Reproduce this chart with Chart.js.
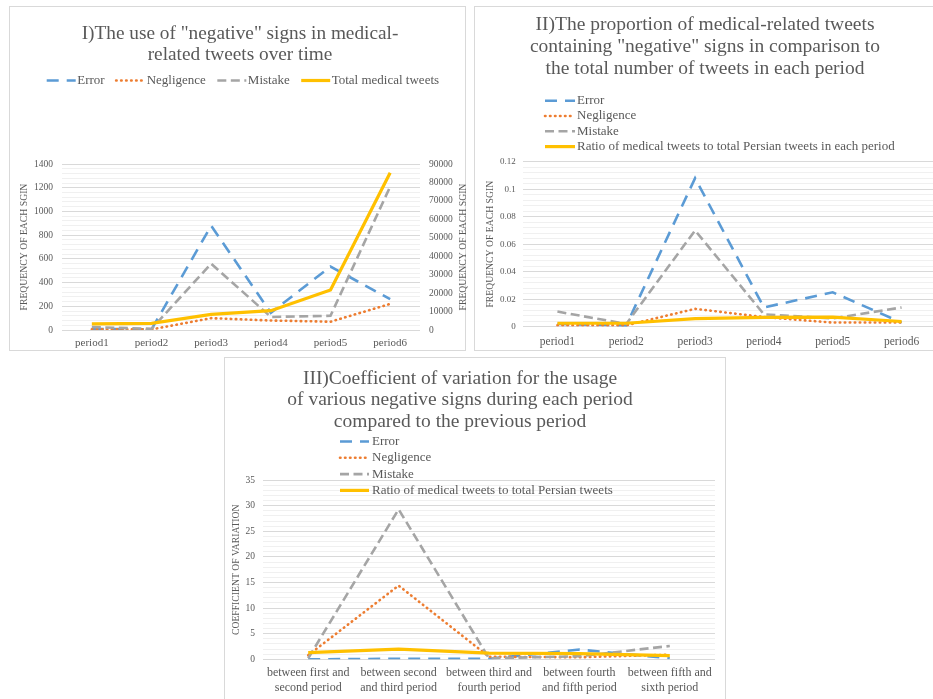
<!DOCTYPE html>
<html>
<head>
<meta charset="utf-8">
<script src="https://cdn.jsdelivr.net/npm/chart.js@4.4.1/dist/chart.umd.min.js"></script>
<style>
  html, body { margin: 0; padding: 0; background: #fff; width: 933px; height: 699px; overflow: hidden; }
  .panel { position: absolute; border: 1px solid #d9d9d9; background: #fff; box-sizing: border-box; }
  canvas { position: absolute; }
</style>
</head>
<body>
<div class="panel" style="left:9px;top:6px;width:457px;height:345px"></div>
<div class="panel" style="left:474px;top:6px;width:480px;height:345px"></div>
<div class="panel" style="left:224px;top:357px;width:502px;height:360px"></div>
<canvas id="chartFreq" width="462" height="344" style="left:9px;top:6px"></canvas>
<canvas id="chartRatio" width="476" height="344" style="left:474px;top:6px"></canvas>
<canvas id="chartCv" width="520" height="342" style="left:205px;top:357px"></canvas>

<script>
// ---- data ----
const periods = ['period1', 'period2', 'period3', 'period4', 'period5', 'period6'];

// I) counts of each sign per period (left axis) and total medical tweets (right axis)
const freqError      = [10, 5, 880, 145, 535, 260];
const freqNegligence = [5, 5, 100, 80, 70, 220];
const freqMistake    = [25, 10, 560, 110, 120, 1210];
const totalMedicalTweets = [3300, 3600, 8500, 10500, 21700, 85300];

// II) share of tweets with each sign in every period
const ratioError      = [0.002, 0.001, 0.108, 0.014, 0.025, 0.003];
const ratioNegligence = [0.001, 0.001, 0.013, 0.007, 0.003, 0.003];
const ratioMistake    = [0.011, 0.002, 0.070, 0.009, 0.006, 0.014];
const ratioMedical    = [0.0025, 0.0025, 0.0058, 0.0068, 0.007, 0.0038];

// III) coefficient of variation between consecutive periods
const transitions = [
  ['between first and', 'second period'],
  ['between second', 'and third period'],
  ['between third and', 'fourth period'],
  ['between fourth', 'and fifth period'],
  ['between fifth and', 'sixth period']
];
const cvError      = [0, 0.1, 0.1, 1.9, 0.2];
const cvNegligence = [0.8, 14.4, 0.5, 0.4, 0.9];
const cvMistake    = [0.2, 29.3, 0.2, 0.6, 2.6];
const cvMedical    = [1.3, 2.0, 1.2, 1.1, 0.7];

const axisCaption = 'FREQUENCY OF EACH SGIN';

// ---- look ----
const SERIF = "'Liberation Serif', 'Times New Roman', serif";
const TEXT = '#595959';
const GRID_MAJOR = '#d9d9d9';
const GRID_MINOR = '#f0f0f0';

Chart.defaults.font.family = SERIF;
Chart.defaults.color = TEXT;
Chart.defaults.animation = false;

const STYLE = {
  error:      { color: '#5B9BD5', width: 2.6, dash: [12, 8],   cap: 'butt',  order: 4 },
  negligence: { color: '#ED7D31', width: 2.6, dash: [0.5, 4.5], cap: 'round', order: 3 },
  mistake:    { color: '#A5A5A5', width: 2.6, dash: [9, 4.5],  cap: 'butt',  order: 2 },
  total:      { color: '#FFC000', width: 3.2, dash: [],        cap: 'butt',  order: 1 }
};

function series(label, data, st, axis) {
  return {
    label, data, yAxisID: axis || 'y',
    borderColor: st.color, backgroundColor: st.color,
    borderWidth: st.width, borderDash: st.dash, borderCapStyle: st.cap,
    pointRadius: 0, pointHoverRadius: 0, tension: 0, fill: false, order: st.order
  };
}

function isMultiple(v, step) {
  const r = v / step;
  return Math.abs(r - Math.round(r)) < 1e-6;
}

// value axis with major and minor grid lines; only major ticks are labelled
function valueAxis(o) {
  return {
    position: 'left',
    min: 0, max: o.max,
    border: { display: false },
    grid: {
      drawTicks: false,
      lineWidth: 1,
      color: c => (c.tick && isMultiple(c.tick.value, o.major)) ? GRID_MAJOR : GRID_MINOR
    },
    ticks: {
      stepSize: o.minor, autoSkip: false, maxTicksLimit: 1000,
      padding: o.pad, font: { size: o.font },
      callback: v => isMultiple(v, o.major) ? o.fmt(v) : ''
    },
    title: {
      display: true, text: o.caption || axisCaption, color: TEXT,
      font: { size: 9.7, lineHeight: 1.2 }, padding: { top: o.titlePad, bottom: 0 }
    },
    afterFit: s => { s.width = o.width; }
  };
}

function categoryAxis(o) {
  return {
    offset: true,
    grid: { display: false, drawTicks: false },
    border: { display: false },
    ticks: { padding: o.pad, font: { size: o.font, lineHeight: 1.2 }, maxRotation: 0, minRotation: 0, autoSkip: false },
    afterFit: s => { s.height = o.height; }
  };
}

// legend drawn as line samples followed by the series name
const seriesKey = {
  id: 'seriesKey',
  afterDatasetsDraw(chart, args, o) {
    const ctx = chart.ctx;
    ctx.save();
    ctx.font = o.fontSize + 'px ' + SERIF;
    ctx.fillStyle = TEXT;
    ctx.textBaseline = 'middle';
    ctx.textAlign = 'left';
    let x = o.x, y = o.y;
    chart.data.datasets.forEach(ds => {
      ctx.save();
      ctx.strokeStyle = ds.borderColor;
      ctx.lineWidth = ds.borderWidth;
      ctx.setLineDash(ds.borderDash || []);
      ctx.lineCap = ds.borderCapStyle || 'butt';
      ctx.beginPath();
      ctx.moveTo(x, y);
      ctx.lineTo(x + o.sample, y);
      ctx.stroke();
      ctx.restore();
      ctx.fillText(ds.label, x + o.sample + o.textGap, y);
      if (o.direction === 'row') {
        x += o.sample + o.textGap + ctx.measureText(ds.label).width + o.itemGap;
      } else {
        y += o.rowHeight;
      }
    });
    ctx.restore();
  }
};

// caption of the secondary axis, read bottom to top like the primary one
const rightCaption = {
  id: 'rightCaption',
  afterDraw(chart, args, o) {
    const s = chart.scales[o.scale];
    if (!s) return;
    const ctx = chart.ctx;
    ctx.save();
    ctx.font = o.fontSize + 'px ' + SERIF;
    ctx.fillStyle = TEXT;
    ctx.textAlign = 'center';
    ctx.textBaseline = 'middle';
    ctx.translate(s.right - o.inset, (chart.chartArea.top + chart.chartArea.bottom) / 2);
    ctx.rotate(-Math.PI / 2);
    ctx.fillText(o.text, 0, 0);
    ctx.restore();
  }
};

function titleOpts(lines, size, lh, top, bottom) {
  return {
    display: true, text: lines, color: TEXT,
    font: { size, weight: 'normal', lineHeight: lh },
    padding: { top, bottom }
  };
}

// ---- I) frequency of each sign ----
new Chart(document.getElementById('chartFreq'), {
  type: 'line',
  data: {
    labels: periods,
    datasets: [
      series('Error', freqError, STYLE.error),
      series('Negligence', freqNegligence, STYLE.negligence),
      series('Mistake', freqMistake, STYLE.mistake),
      series('Total medical tweets', totalMedicalTweets, STYLE.total, 'y1')
    ]
  },
  options: {
    responsive: false,
    layout: { padding: 0 },
    plugins: {
      legend: { display: false },
      tooltip: { enabled: false },
      title: titleOpts(['I)The use of "negative" signs in medical-', 'related tweets over time'], 19.3, 1.1, 17, 98.6),
      seriesKey: { direction: 'row', x: 37.7, y: 74.5, sample: 29, textGap: 1.5, itemGap: 11.5, fontSize: 13 },
      rightCaption: { scale: 'y1', inset: 8, text: axisCaption, fontSize: 9.7 }
    },
    scales: {
      x: categoryAxis({ pad: 6.4, font: 11, height: 20 }),
      y: valueAxis({ max: 1400, major: 200, minor: 40, pad: 9, font: 9.5, fmt: v => String(v), width: 53, titlePad: 10 }),
      y1: {
        position: 'right', min: 0, max: 90000,
        grid: { display: false, drawTicks: false },
        border: { display: false },
        ticks: { stepSize: 10000, autoSkip: false, padding: 9, font: { size: 9.5 }, callback: v => String(v) },
        afterFit: s => { s.width = 51; }
      }
    }
  },
  plugins: [seriesKey, rightCaption]
});

// ---- II) proportion of tweets with each sign ----
new Chart(document.getElementById('chartRatio'), {
  type: 'line',
  data: {
    labels: periods,
    datasets: [
      series('Error', ratioError, STYLE.error),
      series('Negligence', ratioNegligence, STYLE.negligence),
      series('Mistake', ratioMistake, STYLE.mistake),
      series('Ratio of medical tweets to total Persian tweets in each period', ratioMedical, STYLE.total)
    ]
  },
  options: {
    responsive: false,
    layout: { padding: { left: 0, right: 14, top: 0, bottom: 0 } },
    plugins: {
      legend: { display: false },
      tooltip: { enabled: false },
      title: titleOpts(['II)The proportion of medical-related tweets', 'containing "negative" signs in comparison to', 'the total number of tweets in each period'], 19.5, 1.15, 7.3, 81.1),
      seriesKey: { direction: 'column', x: 71, y: 94.7, rowHeight: 15.3, sample: 30, textGap: 2, fontSize: 13 }
    },
    scales: {
      x: categoryAxis({ pad: 8.1, font: 11.5, height: 23.3 }),
      y: valueAxis({ max: 0.12, major: 0.02, minor: 0.004, pad: 7.3, font: 9, fmt: v => String(+v.toFixed(2)), width: 49, titlePad: 10.2 })
    }
  },
  plugins: [seriesKey]
});

// ---- III) coefficient of variation between periods ----
new Chart(document.getElementById('chartCv'), {
  type: 'line',
  data: {
    labels: transitions,
    datasets: [
      series('Error', cvError, STYLE.error),
      series('Negligence', cvNegligence, STYLE.negligence),
      series('Mistake', cvMistake, STYLE.mistake),
      series('Ratio of medical tweets to total Persian tweets', cvMedical, STYLE.total)
    ]
  },
  options: {
    responsive: false,
    layout: { padding: { left: 0, right: 10, top: 0, bottom: 0 } },
    plugins: {
      legend: { display: false },
      tooltip: { enabled: false },
      title: titleOpts(['III)Coefficient of variation for the usage', 'of various negative signs during each period', 'compared to the previous period'], 19.5, 1.1, 10.8, 48),
      seriesKey: { direction: 'column', x: 135, y: 84.5, rowHeight: 16.3, sample: 29, textGap: 3, fontSize: 13 }
    },
    scales: {
      x: categoryAxis({ pad: 6.5, font: 12, height: 39.7 }),
      y: valueAxis({ max: 35, major: 5, minor: 1, pad: 8, font: 9.5, fmt: v => String(v), width: 58, titlePad: 26, caption: 'COEFFICIENT OF VARIATION' })
    }
  },
  plugins: [seriesKey]
});
</script>
</body>
</html>
